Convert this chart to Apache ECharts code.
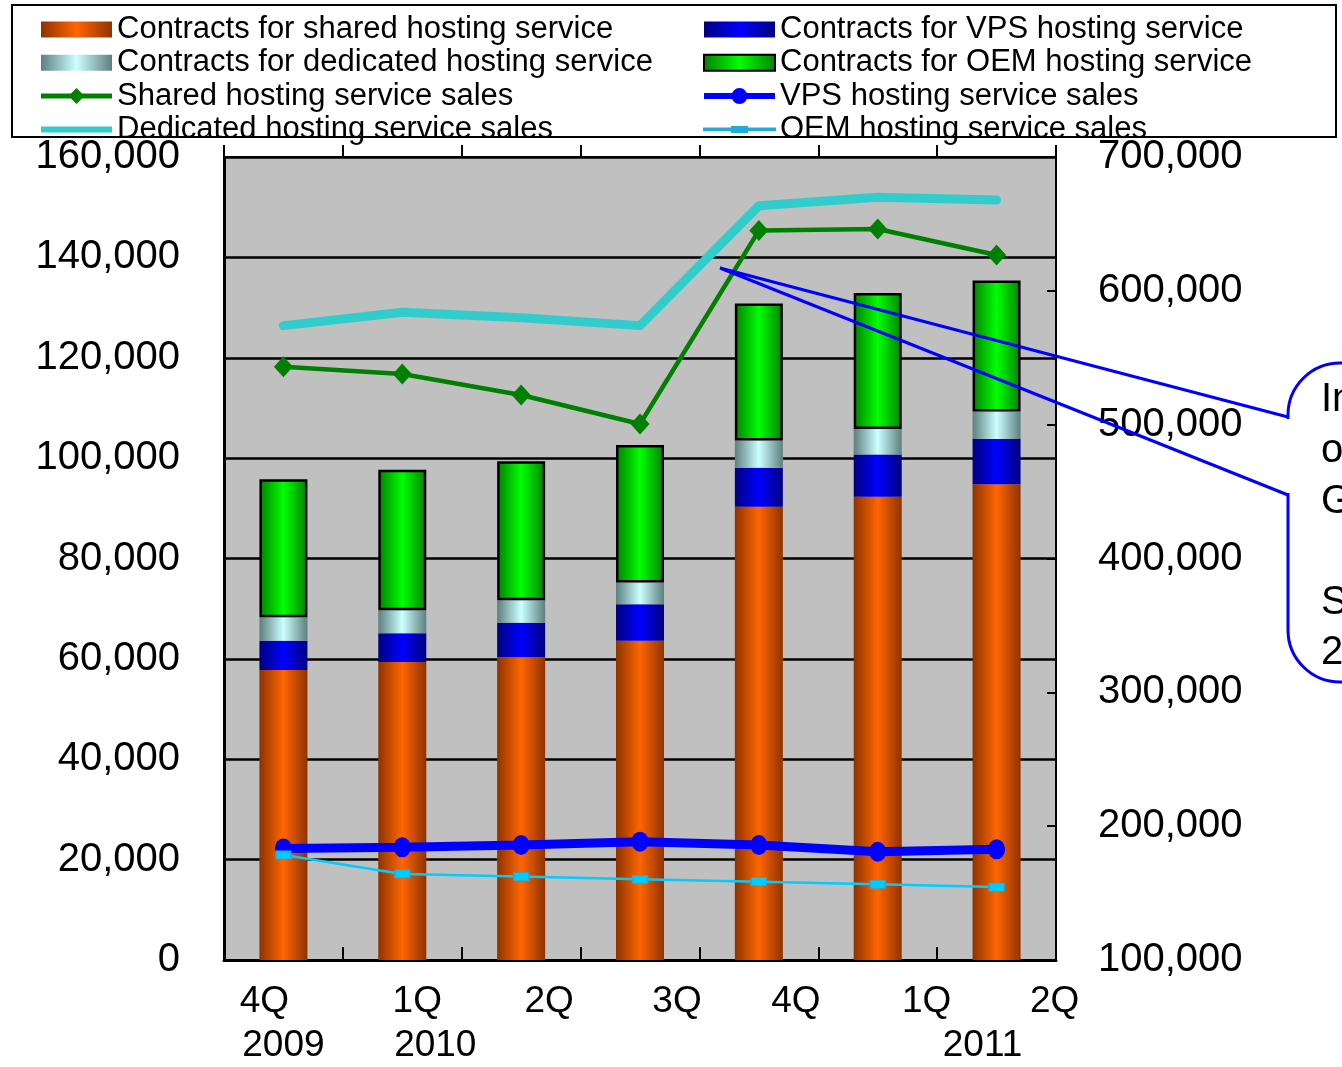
<!DOCTYPE html>
<html>
<head>
<meta charset="utf-8">
<title>Hosting service contracts and sales</title>
<script src="https://cdn.jsdelivr.net/npm/echarts@6/dist/echarts.min.js"></script>
<style>
  html, body { margin: 0; padding: 0; background: #ffffff; }
  #main { width: 1342px; height: 1067px; }
</style>
</head>
<body>
<div id="main"></div>
<script>
// Quarters shown on the horizontal axis
const categories = ['4Q 2009', '1Q 2010', '2Q 2010', '3Q 2010', '4Q 2010', '1Q 2011', '2Q 2011'];
const quarterLabels = ['4Q', '1Q', '2Q', '3Q', '4Q', '1Q', '2Q'];
const yearLabels = ['2009', '2010', '', '', '', '', '2011'];

// Number of contracts (left axis), stacked bottom to top
const sharedContracts = [57800, 59400, 60300, 63600, 90300, 92300, 94800];
const vpsContracts = [5800, 5700, 6900, 7300, 7800, 8400, 9000];
const dedicatedContracts = [4700, 4600, 4500, 4300, 5400, 5100, 5500];
const oemContracts = [27500, 28000, 27700, 27400, 27300, 27100, 26100];

// Sales (right axis)
const sharedSales = [543300, 537900, 522200, 500500, 645000, 646200, 626800];
const vpsSales = [183400, 184200, 185900, 188400, 185900, 180900, 182700];
const dedicatedSales = [574000, 584000, 579900, 574000, 663600, 669900, 667900];
const oemSales = [178500, 164300, 162300, 160300, 158500, 156600, 154500];

// Text of the note box on the right
const calloutLines = ['Inclusion in the scope', 'of consolidation of', 'GMO Hosting & Security', '', 'Sales from', '2010 4Q onward'];

// Axis ticks
const leftAxis = { min: 0, max: 160000, interval: 20000 };
const rightAxis = { min: 100000, max: 700000, interval: 100000 };

const FONT = '"Liberation Sans", Arial, sans-serif';

// Shifts of the quarter / year captions relative to each category centre
const quarterShift = [-19, 15, 28, 37, 37, 49, 58];
const yearShift = [0, 33, 0, 0, 0, 0, -14];

// Legend glyphs for the sales lines (line stroke plus marker, 71 x 16 box)
const ICON_SHARED = 'path://M0,5.5L71,5.5L71,10.5L0,10.5Z M35.5,0L43.5,8L35.5,16L27.5,8Z';
const ICON_VPS = 'path://M0,5L71,5L71,11L0,11Z M27.5,8A8,8 0 1,1 43.5,8A8,8 0 1,1 27.5,8Z';
const ICON_DEDICATED = 'path://M0,5L71,5L71,11L0,11Z';
const ICON_OEM = 'path://M0,7.2L71,7.2L71,8.8L0,8.8Z M28,5.5L43,5.5L43,10.5L28,10.5Z';

function hGrad(edge, mid) {
  return {
    type: 'linear', x: 0, y: 0, x2: 1, y2: 0,
    colorStops: [
      { offset: 0, color: edge },
      { offset: 0.5, color: mid },
      { offset: 1, color: edge }
    ]
  };
}

const fmt = v => v.toLocaleString('en-US');

const chart = echarts.init(document.getElementById('main'));

const legendCommon = {
  orient: 'vertical',
  top: 13,
  padding: 0,
  itemWidth: 71,
  itemHeight: 16,
  itemGap: 0.3,
  selectedMode: false,
  textStyle: { fontSize: 31, fontFamily: FONT, color: '#000', lineHeight: 33 }
};

chart.setOption({
  animation: false,
  backgroundColor: '#ffffff',
  legend: [
    Object.assign({}, legendCommon, {
      left: 41,
      data: [
        { name: 'Contracts for shared hosting service', icon: 'rect' },
        { name: 'Contracts for dedicated hosting service', icon: 'rect' },
        { name: 'Shared hosting service sales', icon: ICON_SHARED },
        { name: 'Dedicated hosting service sales', icon: ICON_DEDICATED }
      ]
    }),
    Object.assign({}, legendCommon, {
      left: 703,
      data: [
        { name: 'Contracts for VPS hosting service', icon: 'rect' },
        { name: 'Contracts for OEM hosting service', icon: 'rect' },
        { name: 'VPS hosting service sales', icon: ICON_VPS },
        { name: 'OEM hosting service sales', icon: ICON_OEM }
      ]
    })
  ],
  grid: {
    left: 224, right: 286, top: 157, bottom: 107,
    show: true,
    backgroundColor: '#C0C0C0',
    borderColor: '#000',
    borderWidth: 2
  },
  xAxis: [
    {
      type: 'category',
      data: categories,
      position: 'bottom',
      boundaryGap: true,
      axisLine: { show: true, lineStyle: { color: '#000', width: 3 } },
      axisTick: { show: true, inside: true, length: 13, lineStyle: { color: '#000', width: 2 } },
      axisLabel: { show: false },
      splitLine: { show: false }
    },
    {
      type: 'category',
      data: categories,
      position: 'top',
      boundaryGap: true,
      axisLine: { show: true, lineStyle: { color: '#000', width: 2 } },
      axisTick: { show: true, inside: false, length: 12, lineStyle: { color: '#000', width: 2 } },
      axisLabel: { show: false },
      splitLine: { show: false }
    }
  ],
  yAxis: [
    {
      type: 'value',
      position: 'left',
      min: leftAxis.min, max: leftAxis.max, interval: leftAxis.interval,
      axisLine: { show: true, lineStyle: { color: '#000', width: 3 } },
      axisTick: { show: false },
      axisLabel: { fontSize: 40, fontFamily: FONT, color: '#000', margin: 44, formatter: fmt },
      splitLine: { show: true, lineStyle: { color: '#000', width: 2.5 } }
    },
    {
      type: 'value',
      position: 'right',
      min: rightAxis.min, max: rightAxis.max, interval: rightAxis.interval,
      axisLine: { show: true, lineStyle: { color: '#000', width: 2 } },
      axisTick: { show: true, inside: true, length: 9, lineStyle: { color: '#000', width: 2 } },
      axisLabel: { fontSize: 40, fontFamily: FONT, color: '#000', margin: 42, formatter: fmt },
      splitLine: { show: false }
    }
  ],
  series: [
    {
      name: 'Contracts for shared hosting service',
      type: 'bar', stack: 'contracts', barWidth: 48,
      data: sharedContracts,
      itemStyle: { color: hGrad('#8F3300', '#FF6600') }
    },
    {
      name: 'Contracts for VPS hosting service',
      type: 'bar', stack: 'contracts', barWidth: 48,
      data: vpsContracts,
      itemStyle: { color: hGrad('#000080', '#0000FF') }
    },
    {
      name: 'Contracts for dedicated hosting service',
      type: 'bar', stack: 'contracts', barWidth: 48,
      data: dedicatedContracts,
      itemStyle: { color: hGrad('#5E7F7F', '#CCFFFF') }
    },
    {
      name: 'Contracts for OEM hosting service',
      type: 'bar', stack: 'contracts', barWidth: 48,
      data: oemContracts,
      itemStyle: { color: hGrad('#008000', '#00FF00'), borderColor: '#000', borderWidth: 2.5 }
    },
    {
      name: 'Shared hosting service sales',
      type: 'line', yAxisIndex: 1,
      data: sharedSales,
      symbol: 'diamond', symbolSize: [19, 21],
      itemStyle: { color: '#008000' },
      lineStyle: { color: '#008000', width: 4.5 }
    },
    {
      name: 'Dedicated hosting service sales',
      type: 'line', yAxisIndex: 1,
      data: dedicatedSales,
      symbol: 'none',
      itemStyle: { color: '#33CCCC' },
      lineStyle: { color: '#33CCCC', width: 9, cap: 'round', join: 'round' }
    },
    {
      name: 'VPS hosting service sales',
      type: 'line', yAxisIndex: 1,
      data: vpsSales,
      symbol: 'circle', symbolSize: [17, 20],
      itemStyle: { color: '#0000FF' },
      lineStyle: { color: '#0000FF', width: 9 }
    },
    {
      name: 'OEM hosting service sales',
      type: 'line', yAxisIndex: 1,
      data: oemSales,
      symbol: 'rect', symbolSize: [15, 8],
      itemStyle: { color: '#00CCFF', borderColor: '#22AADD', borderWidth: 1 },
      lineStyle: { color: '#00CCFF', width: 2.5 }
    }
  ]
});

// Graphic overlays: legend frame, quarter captions and the note box
const graphics = [];

graphics.push({
  type: 'rect', z: 100, silent: true,
  shape: { x: 12, y: 5, width: 1324, height: 132 },
  style: { fill: 'none', stroke: '#000', lineWidth: 2 }
});

const baseY = chart.convertToPixel({ yAxisIndex: 0 }, leftAxis.min);
categories.forEach((c, i) => {
  const cx = chart.convertToPixel({ xAxisIndex: 0 }, c);
  graphics.push({
    type: 'text', silent: true,
    x: cx + quarterShift[i], y: baseY + 42,
    style: { text: quarterLabels[i], fontSize: 37, fontFamily: FONT, fill: '#000', align: 'center', verticalAlign: 'middle' }
  });
  if (yearLabels[i]) {
    graphics.push({
      type: 'text', silent: true,
      x: cx + yearShift[i], y: baseY + 86,
      style: { text: yearLabels[i], fontSize: 37, fontFamily: FONT, fill: '#000', align: 'center', verticalAlign: 'middle' }
    });
  }
});

// Note box with a wedge pointing into the plot
const box = { x: 1288, y: 363, w: 260, h: 319, r: 52 };
const tip = [720, 268];
const wedge = [417, 495];
graphics.push({
  type: 'rect', z: 90, silent: true,
  shape: { x: box.x, y: box.y, width: box.w, height: box.h, r: [box.r, 0, 0, box.r] },
  style: { fill: '#fff', stroke: '#0000FF', lineWidth: 3 }
});
graphics.push({
  type: 'line', z: 91, silent: true,
  shape: { x1: box.x, y1: wedge[0] + 2, x2: box.x, y2: wedge[1] - 2 },
  style: { stroke: '#fff', lineWidth: 6 }
});
graphics.push({
  type: 'polyline', z: 92, silent: true,
  shape: { points: [[box.x, wedge[0]], tip, [box.x, wedge[1]]] },
  style: { fill: 'none', stroke: '#0000FF', lineWidth: 3 }
});
graphics.push({
  type: 'text', z: 93, silent: true,
  x: 1321, y: 375,
  style: {
    text: calloutLines.join('\n'),
    fontSize: 40, fontFamily: FONT, fill: '#000',
    lineHeight: 50.6, align: 'left', verticalAlign: 'top'
  }
});

chart.setOption({ graphic: graphics });
</script>
</body>
</html>
